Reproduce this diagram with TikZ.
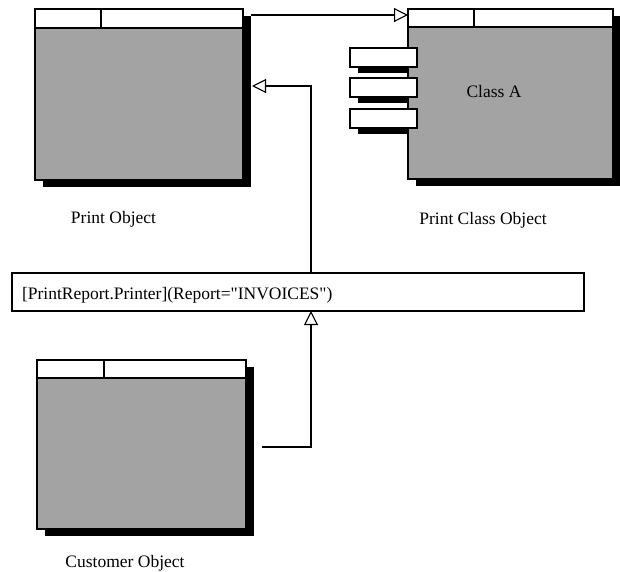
\documentclass[tikz,border=0pt]{standalone}
\usepackage{fontspec}
\setmainfont{Liberation Serif}
\newfontfamily\plainserif{Liberation Serif}
\usetikzlibrary{arrows.meta,shadows,calc}
\definecolor{boxgray}{gray}{0.64}
\begin{document}
\begin{tikzpicture}[x=1pt,y=-1pt,
  every node/.style={inner sep=0pt, outer sep=0pt},
  lbl/.style={font=\plainserif\fontsize{17.5}{21}\selectfont},
  objbox/.style={draw=black, line width=1.1pt, fill=boxgray, anchor=north west,
    drop shadow={shadow xshift=8pt, shadow yshift=-7pt, fill=black, opacity=1}},
  hdr/.style={draw=black, line width=1.1pt, fill=white},
  slot/.style={draw=black, line width=1.1pt, fill=white, anchor=north west,
    minimum width=67pt, minimum height=19pt},
  slotshadow/.style={fill=black},
  barbox/.style={draw=black, line width=1.1pt, fill=white, anchor=north west,
    minimum width=572pt, minimum height=38pt},
  conn/.style={draw=black, line width=1.1pt,
    -{Triangle[fill=white, length=14pt, width=14pt, line width=1.1pt]}}
]
\useasboundingbox (0,0) rectangle (620,571);
\fill[white] (0,0) rectangle (620,571);

% Print Object
\node[objbox, minimum width=208pt, minimum height=171pt] (po) at (35,9) {};
\draw[hdr] (po.north west) rectangle ($(po.north east)+(0,19)$);
\draw[line width=1.1pt] ($(po.north west)+(66,0)$) -- +(0,19);
\node[lbl, anchor=base] (pol) at (113.5,223) {Print Object};

% Print Class Object (slot shadows under the box)
\fill[slotshadow] (358,54) rectangle (425,73);
\fill[slotshadow] (358,84) rectangle (425,103);
\fill[slotshadow] (358,115) rectangle (425,134);
\node[objbox, minimum width=205pt, minimum height=170pt] (pc) at (408,9) {};
\draw[hdr] (pc.north west) rectangle ($(pc.north east)+(0,18)$);
\draw[line width=1.1pt] ($(pc.north west)+(66,0)$) -- +(0,18);
\node[slot] (m1) at (350,48) {};
\node[slot] (m2) at (350,78) {};
\node[slot] (m3) at (350,109) {};
\node[lbl, anchor=base] (ca) at (494,97) {Class A};
\node[lbl, anchor=base] (pcl) at (483,224) {Print Class Object};

% Bar
\node[barbox] (bar) at (12,273) {};
\node[lbl, anchor=base west] (bart) at (22,299) {[PrintReport.Printer](Report="INVOICES")};

% Customer Object
\node[objbox, minimum width=209pt, minimum height=169pt] (co) at (37,360) {};
\draw[hdr] (co.north west) rectangle ($(co.north east)+(0,18)$);
\draw[line width=1.1pt] ($(co.north west)+(67,0)$) -- +(0,18);
\node[lbl, anchor=base] (col) at (125,567) {Customer Object};

% Connectors
\coordinate (k1) at (311,86);
\coordinate (t1) at (252,86);
\coordinate (s1) at (262,447);
\draw[conn] ([xshift=8pt,yshift=-6pt]po.north east) -- ([yshift=-6pt]pc.north west);
\draw[conn] (bar.north -| k1) |- (t1);
\draw[conn] (s1) -| (bar.south -| k1);
\end{tikzpicture}
\end{document}
